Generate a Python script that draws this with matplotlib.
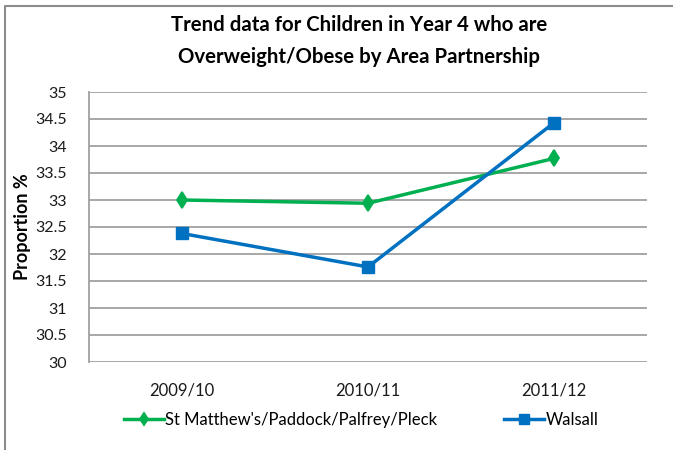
import matplotlib.pyplot as plt
from matplotlib.lines import Line2D

years = ["2009/10", "2010/11", "2011/12"]
st_matthews = [33.0, 32.94, 33.77]
walsall = [32.38, 31.76, 34.43]
yticks = [30, 30.5, 31, 31.5, 32, 32.5, 33, 33.5, 34, 34.5, 35]

plt.rcParams['font.family'] = ['Lato', 'DejaVu Sans']

fig = plt.figure(figsize=(6.73, 4.5), dpi=100)
ax = fig.add_axes([89 / 673, 1 - 362 / 450, (647 - 89) / 673, 270 / 450])

# chart border: only the top and left edges fall inside the image
fig.lines.append(Line2D([5 / 673, 5 / 673, 1.0], [0.0, 1 - 6 / 450, 1 - 6 / 450],
                        transform=fig.transFigure, color='#8c8c8c', linewidth=1.5))

x = range(len(years))
ax.plot(x, st_matthews, color='#00B050', linewidth=2.5, marker='d',
        markersize=8, markeredgewidth=1.3, label="St Matthew's/Paddock/Palfrey/Pleck")
ax.plot(x, walsall, color='#0070C0', linewidth=2.5, marker='s',
        markersize=9, label='Walsall')

ax.set_xlim(-0.5, 2.5)
ax.set_ylim(30, 35)
ax.set_yticks(yticks)
ax.set_yticklabels([f"{v:g}" for v in yticks])
ax.set_xticks(list(x))
ax.set_xticklabels(years)
ax.grid(axis='y', color='#a0a0a0', linewidth=1.3)
ax.set_axisbelow(True)
for side in ['top', 'right', 'bottom']:
    ax.spines[side].set_visible(False)
ax.spines['left'].set_color('#a0a0a0')
ax.spines['left'].set_linewidth(1.3)
ax.tick_params(axis='both', length=0, colors='#1a1a1a')
ax.tick_params(axis='y', pad=16, labelsize=11.5)
ax.tick_params(axis='x', pad=15, labelsize=12)

ax.set_ylabel('Proportion %', fontsize=13, fontweight='bold')
ax.yaxis.set_label_coords(-0.104, 0.5)

fig.text(359 / 673, 1 - 25 / 450, 'Trend data for Children in Year 4 who are',
         ha='center', va='center', fontsize=14.7, fontweight='bold')
fig.text(359 / 673, 1 - 57 / 450, 'Overweight/Obese by Area Partnership',
         ha='center', va='center', fontsize=14.7, fontweight='bold')

fig.legend(loc='center left', bbox_to_anchor=(117 / 673, 1 - 420 / 450),
           ncol=2, frameon=False, fontsize=12, handlelength=2.4,
           handletextpad=0.1, columnspacing=4.0, borderaxespad=0,
           markerscale=0.75)

fig.savefig('out.png', dpi=100)
